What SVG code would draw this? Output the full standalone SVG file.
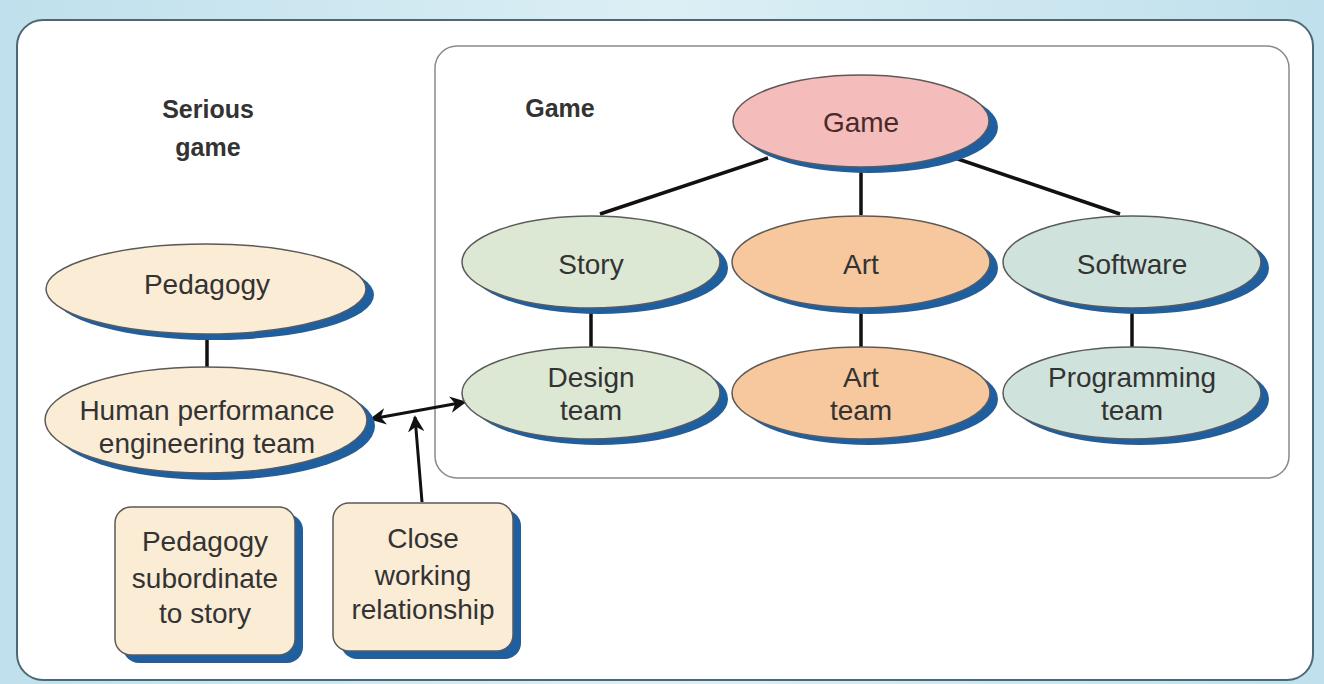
<svg xmlns="http://www.w3.org/2000/svg" width="1324" height="684" viewBox="0 0 1324 684">
<defs>
<style>
.sh{fill:#1f5f9f}
.el{stroke:#5a5a5a;stroke-width:1.5}
.t{font-family:"Liberation Sans",Arial,sans-serif;font-size:28px;fill:#333;text-anchor:middle}
.h{font-family:"Liberation Sans",Arial,sans-serif;font-size:25px;font-weight:bold;fill:#333;text-anchor:middle}
.ln{stroke:#111;stroke-width:3.5;fill:none}
.cream{fill:#fbecd6}
.sage{fill:#dde8d4}
.peach{fill:#f7c89e}
.teal{fill:#cfe3dc}
.pink{fill:#f4bdbb}
</style>
<linearGradient id="bg" x1="0" y1="0" x2="1" y2="0">
<stop offset="0" stop-color="#bfe0ec"/><stop offset="0.5" stop-color="#dceff5"/><stop offset="1" stop-color="#bfe0ec"/>
</linearGradient>
<marker id="ah" viewBox="0 0 10 10" refX="9" refY="5" markerWidth="5.5" markerHeight="5.5" orient="auto-start-reverse" markerUnits="strokeWidth">
<path d="M0,0 L10,5 L0,10 L3,5 Z" fill="#111"/>
</marker>
</defs>
<rect x="0" y="0" width="1324" height="684" fill="url(#bg)"/>
<rect x="17" y="20" width="1296" height="660" rx="26" fill="#fff" stroke="#4d6874" stroke-width="2"/>
<rect x="435" y="46" width="854" height="432" rx="22" fill="#fff" stroke="#8a8a8a" stroke-width="1.5"/>
<g id="labels">
<text class="h" x="208" y="118">Serious</text>
<text class="h" x="208" y="156">game</text>
<text class="h" x="560" y="117">Game</text>
</g>
<g id="connectors">
<line class="ln" x1="768" y1="158" x2="600" y2="214"/>
<line class="ln" x1="861" y1="165" x2="861" y2="215"/>
<line class="ln" x1="955" y1="158" x2="1120" y2="214"/>
<line class="ln" x1="591" y1="305" x2="591" y2="349"/>
<line class="ln" x1="861" y1="305" x2="861" y2="349"/>
<line class="ln" x1="1132" y1="305" x2="1132" y2="349"/>
<line class="ln" x1="207" y1="333" x2="207" y2="368"/>
<line stroke="#111" stroke-width="3" x1="371" y1="419" x2="465" y2="402" marker-start="url(#ah)" marker-end="url(#ah)"/>
<line stroke="#111" stroke-width="3" x1="422" y1="502" x2="415" y2="417" marker-end="url(#ah)"/>
</g>
<g id="game">
<ellipse class="sh" cx="869" cy="127" rx="129" ry="46"/>
<ellipse class="el pink" cx="861" cy="121" rx="128" ry="46"/>
<text class="t" x="861" y="132" style="fill:#4a2a2a">Game</text>
</g>
<g id="story">
<ellipse class="sh" cx="599" cy="268" rx="129" ry="46"/>
<ellipse class="el sage" cx="591" cy="262" rx="129" ry="46"/>
<text class="t" x="591" y="274">Story</text>
</g>
<g id="art">
<ellipse class="sh" cx="869" cy="268" rx="129" ry="46"/>
<ellipse class="el peach" cx="861" cy="262" rx="129" ry="46"/>
<text class="t" x="861" y="274">Art</text>
</g>
<g id="software">
<ellipse class="sh" cx="1140" cy="268" rx="129" ry="46"/>
<ellipse class="el teal" cx="1132" cy="262" rx="129" ry="46"/>
<text class="t" x="1132" y="274">Software</text>
</g>
<g id="design-team">
<ellipse class="sh" cx="599" cy="399" rx="129" ry="46"/>
<ellipse class="el sage" cx="591" cy="393" rx="129" ry="46"/>
<text class="t" x="591" y="387">Design</text>
<text class="t" x="591" y="420">team</text>
</g>
<g id="art-team">
<ellipse class="sh" cx="869" cy="399" rx="129" ry="46"/>
<ellipse class="el peach" cx="861" cy="393" rx="129" ry="46"/>
<text class="t" x="861" y="387">Art</text>
<text class="t" x="861" y="420">team</text>
</g>
<g id="programming-team">
<ellipse class="sh" cx="1140" cy="399" rx="129" ry="46"/>
<ellipse class="el teal" cx="1132" cy="393" rx="129" ry="46"/>
<text class="t" x="1132" y="387">Programming</text>
<text class="t" x="1132" y="420">team</text>
</g>
<g id="pedagogy">
<ellipse class="sh" cx="214" cy="295" rx="160" ry="45"/>
<ellipse class="el cream" cx="206" cy="289" rx="160" ry="45"/>
<text class="t" x="207" y="294">Pedagogy</text>
</g>
<g id="human-performance">
<ellipse class="sh" cx="214" cy="426" rx="161" ry="54"/>
<ellipse class="el cream" cx="206" cy="420" rx="161" ry="53"/>
<text class="t" x="207" y="420">Human performance</text>
<text class="t" x="207" y="453">engineering team</text>
</g>
<g id="pedagogy-subordinate">
<rect class="sh" x="123" y="514" width="180" height="149" rx="16"/>
<rect class="el cream" x="115" y="507" width="180" height="148" rx="16"/>
<text class="t" x="205" y="551">Pedagogy</text>
<text class="t" x="205" y="588">subordinate</text>
<text class="t" x="205" y="623">to story</text>
</g>
<g id="close-working">
<rect class="sh" x="341" y="510" width="180" height="149" rx="16"/>
<rect class="el cream" x="333" y="503" width="180" height="148" rx="16"/>
<text class="t" x="423" y="548">Close</text>
<text class="t" x="423" y="585">working</text>
<text class="t" x="423" y="619">relationship</text>
</g>
</svg>
